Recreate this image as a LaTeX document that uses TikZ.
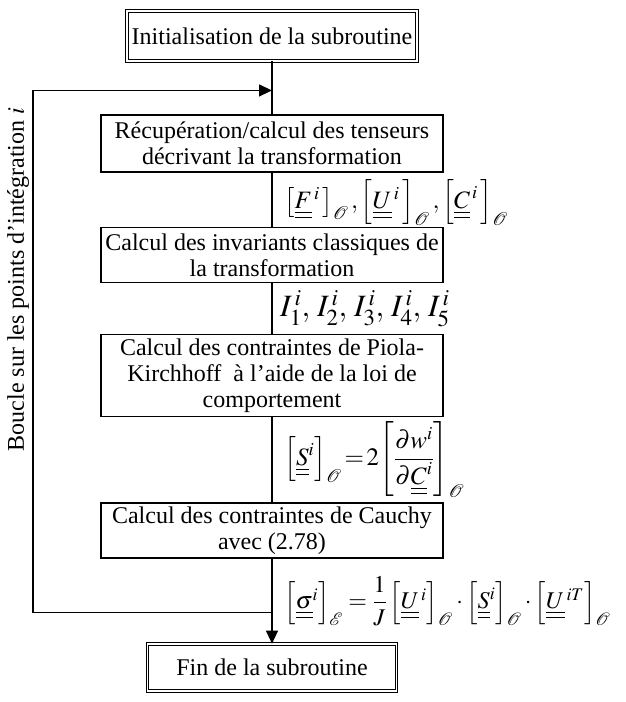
\documentclass[tikz,border=0pt]{standalone}
\usepackage{amsmath}
\usepackage{mathptmx}
\usepackage{fontspec}
\setmainfont{Liberation Serif}
\usepackage{tikz}
\usetikzlibrary{arrows.meta, positioning, calc}
\newcommand{\dul}[1]{\underline{\underline{#1}}}

\begin{document}
\begin{tikzpicture}[
    x=1pt, y=1pt,
    node distance=53pt,
    stepbox/.style={draw=black, line width=1.3pt, fill=white, font=\fontsize{24}{26}\selectfont, minimum width=342pt, inner sep=2pt, align=center},
    endbox/.style={draw=black, double, double distance=1.6pt, line width=0.9pt, fill=white, font=\fontsize{24}{26}\selectfont, inner sep=3pt, align=center},
    mathlabel/.style={anchor=west, inner sep=0pt, font=\fontsize{24}{26}\selectfont},
    link/.style={line width=1.3pt},
    arrow/.style={line width=1.3pt, -{Triangle[length=13pt, width=12pt]}}
]
\useasboundingbox (0,0) rectangle (625,-702);

% Start and end of the subroutine
\node (init) [endbox, minimum width=290pt, minimum height=50pt] at (272,-36) {Initialisation de la subroutine};

% Steps inside the loop
\node (recup) [stepbox, minimum height=57pt, below=53pt of init] {R\'ecup\'eration/calcul des tenseurs\\d\'ecrivant la transformation};
\node (invar) [stepbox, minimum height=55pt, below=54pt of recup] {Calcul des invariants classiques de\\la transformation};
\node (piola) [stepbox, minimum height=82pt, below=51pt of invar] {Calcul des contraintes de Piola-\\Kirchhoff \ \`a l'aide de la loi de\\comportement};
\node (cauchy) [stepbox, minimum height=55pt, below=85pt of piola] {Calcul des contraintes de Cauchy\\avec (2.78)};

\node (fin) [endbox, minimum width=249pt, minimum height=47pt, below=85pt of cauchy] {Fin de la subroutine};

% Quantities passed between the steps
\node (q_tens) [mathlabel, font=\fontsize{25}{27}\selectfont] at ($($(recup.south)!0.5!(invar.north)$)+(12,-3)$)
  {$\left[\dul{F}^{\,i}\,\right]_{\mathcal{O}},\left[\dul{U}^{\,i}\,\right]_{\mathcal{O}},\left[\dul{C}^{\,i}\,\right]_{\mathcal{O}}$};
\node (q_inv) [mathlabel, font=\fontsize{31}{33}\selectfont] at ($($(invar.south)!0.5!(piola.north)$)+(8,0)$)
  {$I_1^{\,i},\, I_2^{\,i},\, I_3^{\,i},\, I_4^{\,i},\, I_5^{\,i}$};
\node (q_piola) [mathlabel, font=\fontsize{25}{27}\selectfont] at ($($(piola.south)!0.5!(cauchy.north)$)+(12,0)$)
  {$\left[\dul{S}^{i}\right]_{\mathcal{O}}\!=\!2\!\left[\dfrac{\partial w^{i}}{\partial \dul{C}^{i}}\right]_{\mathcal{O}}$};
\node (q_cauchy) [mathlabel] at ($($(cauchy.south)!0.5!(fin.north)$)+(12,0)$)
  {$\left[\dul{\sigma}^{i}\right]_{\mathcal{E}}=\dfrac{1}{J}\left[\dul{U}^{\,i}\right]_{\mathcal{O}}\cdot\left[\dul{S}^{i}\right]_{\mathcal{O}}\cdot\left[\dul{U}^{\,iT}\right]_{\mathcal{O}}$};

% Loop over the integration points
\coordinate (looptop) at ([yshift=-29pt]init.south);
\coordinate (loopend) at ([yshift=-54pt]cauchy.south);
\coordinate (loopleft) at ([xshift=-239pt]loopend);
\node (looplabel) [rotate=90, font=\fontsize{24}{24}\selectfont] at ($(loopleft)+(-15,333)$) {Boucle sur les points d'int\'egration $i$};

% Arrows
\draw [link] (init) -- (recup);
\draw [link] (recup) -- (invar);
\draw [link] (invar) -- (piola);
\draw [link] (piola) -- (cauchy);
\draw [arrow] (cauchy) -- (fin);
\draw [arrow] (loopend) -- (loopleft) |- (looptop);

\end{tikzpicture}
\end{document}
